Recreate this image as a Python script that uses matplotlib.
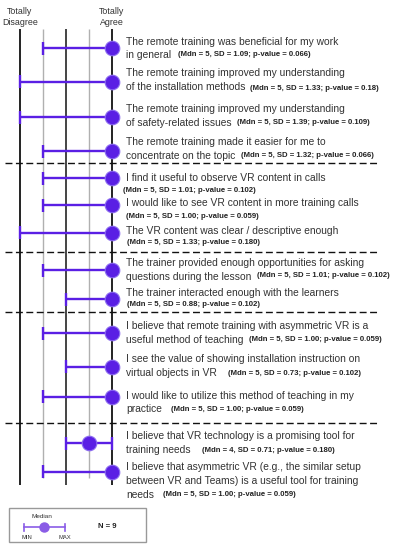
import matplotlib
matplotlib.use("Agg")
import matplotlib.pyplot as plt
from matplotlib.transforms import blended_transform_factory
from matplotlib.patches import Rectangle

plt.rcParams['font.family'] = ['Liberation Sans', 'DejaVu Sans']

# ---------------- data ----------------
items = [
    ["The remote training was beneficial for my work", "in general"],
    ["The remote training improved my understanding", "of the installation methods"],
    ["The remote training improved my understanding", "of safety-related issues"],
    ["The remote training made it easier for me to", "concentrate on the topic"],
    ["I find it useful to observe VR content in calls"],
    ["I would like to see VR content in more training calls"],
    ["The VR content was clear / descriptive enough"],
    ["The trainer provided enough opportunities for asking", "questions during the lesson"],
    ["The trainer interacted enough with the learners"],
    ["I believe that remote training with asymmetric VR is a", "useful method of teaching"],
    ["I see the value of showing installation instruction on", "virtual objects in VR"],
    ["I would like to utilize this method of teaching in my", "practice"],
    ["I believe that VR technology is a promising tool for", "training needs"],
    ["I believe that asymmetric VR (e.g., the similar setup",
     "between VR and Teams) is a useful tool for training", "needs"],
]
medians = [5, 5, 5, 5, 5, 5, 5, 5, 5, 5, 5, 5, 4, 5]
mins    = [2, 1, 1, 2, 2, 2, 1, 2, 3, 2, 3, 2, 3, 2]
maxs    = [5, 5, 5, 5, 5, 5, 5, 5, 5, 5, 5, 5, 5, 5]
sds     = ["1.09", "1.33", "1.39", "1.32", "1.01", "1.00", "1.33",
           "1.01", "0.88", "1.00", "0.73", "1.00", "0.71", "1.00"]
pvals   = ["0.066", "0.18", "0.109", "0.066", "0.102", "0.059", "0.180",
           "0.102", "0.102", "0.059", "0.102", "0.059", "0.180", "0.059"]
levels = [1, 2, 3, 4, 5]
n_resp = 9
scale_labels = ["Totally\nDisagree", "Totally\nAgree"]

# ---------------- layout (pixels) ----------------
W, H = 393, 550
row_y   = [48, 81.7, 117, 151, 178, 205, 232.7, 270, 299.3, 333.3, 366.7, 396.5, 443.3, 471.7]
text_y  = [41.7, 73.3, 109, 142.3, 178.3, 203, 231, 263.3, 293.3, 326, 359.3, 395.7, 436, 467.3]
stats_x = [178, 250, 237, 240.7, 123, 126, 127, 257, 127, 249, 228, 171, 202, 163]
stats_y = [54, 88, 122.7, 155.7, 190.7, 217, 243, 275.7, 305, 339.3, 373.3, 409.3, 450, 495]
sep_y   = [163, 252, 312, 423]
line_gap = 13.6
text_x = 126

purple = "#5a1fe4"
dot_edge = "#8c6cf0"
txt_col = "#333333"

fig = plt.figure(figsize=(W / 100, H / 100), dpi=100)
ax = fig.add_axes([0, 0, 1, 1])
# x: Likert scale, value 1 at px 20, value 5 at px 112
unit = 23.0
ax.set_xlim(1 - 20 / unit, 1 + (W - 20) / unit)
ax.set_ylim(H, 0)
ax.axis("off")

tx = blended_transform_factory(ax.transAxes, ax.transData)
def fx(px):
    return px / W

# vertical scale lines
for lv in levels:
    if lv % 2 == 1:
        ax.vlines(lv, 29, 485, color="#222222" if lv != 3 else "#444444", lw=1.4, zorder=1)
    else:
        ax.vlines(lv, 29, 478, color="#b0b0b0", lw=1.0, zorder=1)

# header labels
ax.text(levels[0], 17, scale_labels[0], ha="center", va="center", fontsize=6.4,
        color=txt_col, linespacing=1.25)
ax.text(levels[-1], 17, scale_labels[1], ha="center", va="center", fontsize=6.4,
        color=txt_col, linespacing=1.25)

# separators
for y in sep_y:
    ax.plot([fx(5), fx(380)], [y, y], transform=tx, color="#111111", lw=1.0,
            dashes=(5, 2.5), zorder=1)

# rows
for i in range(len(items)):
    y = row_y[i]
    ax.plot([mins[i], maxs[i]], [y, y], color=purple, lw=1.7, zorder=3,
            solid_capstyle="butt")
    for v in (mins[i], maxs[i]):
        ax.vlines(v, y - 6.5, y + 6.5, color=purple, lw=1.7, zorder=3)
    ax.plot([medians[i]], [y], marker="o", ms=10.5, color=purple,
            mec=dot_edge, mew=0.8, zorder=4)
    for k, line in enumerate(items[i]):
        ax.text(fx(text_x), text_y[i] + k * line_gap, line, transform=tx,
                ha="left", va="center", fontsize=7.4, color=txt_col)
    stats = f"(Mdn = {medians[i]}, SD = {sds[i]}; p-value = {pvals[i]})"
    ax.text(fx(stats_x[i]), stats_y[i], stats, transform=tx, ha="left",
            va="center", fontsize=5.6, fontweight="bold", color="#222222")

# legend box
ax.add_patch(Rectangle((fx(9), 508), fx(146) - fx(9), 34, transform=tx,
                       facecolor="white", edgecolor="#999999", lw=1.0, zorder=2))
leg_col = "#8a5ce6"
ax.plot([fx(24), fx(65)], [527, 527], transform=tx, color=leg_col, lw=1.2, zorder=3)
for xx in (24, 65):
    ax.plot([fx(xx), fx(xx)], [523.5, 530.5], transform=tx, color=leg_col, lw=1.2, zorder=3)
ax.plot([fx(44)], [527], transform=tx, marker="o", ms=6.5, color=leg_col,
        mec=leg_col, zorder=4)
ax.text(fx(42), 517, "Median", transform=tx, ha="center", va="center",
        fontsize=4.6, color=txt_col)
ax.text(fx(27), 537.5, "MIN", transform=tx, ha="center", va="center",
        fontsize=4.2, color=txt_col)
ax.text(fx(65), 537.5, "MAX", transform=tx, ha="center", va="center",
        fontsize=4.2, color=txt_col)
ax.text(fx(107), 526, f"N = {n_resp}", transform=tx, ha="center", va="center",
        fontsize=5.6, fontweight="bold", color="#222222")

fig.savefig("out.png", dpi=100)
